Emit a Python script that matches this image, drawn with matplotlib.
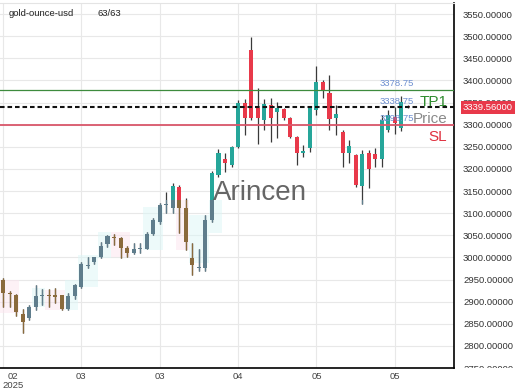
import matplotlib
matplotlib.use("Agg")
import matplotlib.pyplot as plt
from matplotlib.patches import Rectangle
from matplotlib.transforms import Bbox, TransformedBbox, blended_transform_factory

plt.rcParams.update({
    'font.family': 'Liberation Sans',
    'font.size': 6.8,
})

# --- candle data ---
opens = [2948, 2920, 2916, 2873, 2862, 2887, 2912, 2916, 2914, 2914,
         2883, 2912, 2932, 2980, 2989, 3000, 3030, 3045, 3043, 3021,
         3009, 3019, 3020, 3054, 3079, 3118, 3111, 3159, 3111, 2998,
         2977, 2975, 3084, 3186, 3222, 3208, 3249, 3349, 3468, 3337,
         3310, 3344, 3328, 3335, 3315, 3272, 3237, 3247, 3333, 3396,
         3371, 3315, 3283, 3236, 3231, 3161, 3236, 3233, 3222, 3288,
         3317, 3292, 3342]
highs = [2953, 2924, 2918, 2883, 2892, 2937, 2928, 2928, 2930, 2916,
         2919, 2941, 2989, 3002, 3002, 3034, 3050, 3054, 3045, 3025,
         3032, 3032, 3057, 3088, 3122, 3147, 3168, 3163, 3134, 3032,
         3020, 3095, 3195, 3245, 3235, 3252, 3355, 3357, 3498, 3383,
         3357, 3360, 3351, 3337, 3317, 3274, 3255, 3340, 3432, 3400,
         3412, 3344, 3287, 3265, 3233, 3242, 3242, 3247, 3321, 3333,
         3340, 3364, 3345]
lows = [2887, 2887, 2867, 2830, 2858, 2880, 2892, 2887, 2896, 2880,
        2880, 2907, 2930, 2977, 2986, 2998, 3023, 3027, 2998, 3002,
        3007, 3009, 3018, 3050, 3075, 3100, 3100, 3055, 3016, 2960,
        2970, 2970, 3080, 3181, 3193, 3205, 3247, 3276, 3310, 3256,
        3287, 3260, 3269, 3310, 3269, 3208, 3228, 3238, 3321, 3360,
        3287, 3276, 3204, 3213, 3159, 3120, 3156, 3204, 3204, 3283,
        3278, 3285, 3337]
closes = [2919, 2918, 2876, 2853, 2887, 2912, 2916, 2912, 2910, 2883,
          2912, 2937, 2984, 2983, 3000, 3025, 3048, 3043, 3021, 3009,
          3018, 3021, 3054, 3084, 3118, 3120, 3161, 3111, 3034, 2982,
          2979, 3084, 3190, 3237, 3213, 3249, 3349, 3315, 3315, 3315,
          3346, 3315, 3337, 3315, 3272, 3236, 3241, 3337, 3397, 3376,
          3312, 3324, 3236, 3251, 3163, 3233, 3199, 3222, 3310, 3321,
          3303, 3351, 3339.56]

# shaded zones in the older part of the chart: (first, last, low, high, kind)
zones = [
    (-0.5, 2.5, 2875, 2950, 'down'),
    (4.5, 6.5, 2887, 2930, 'up'),
    (6.5, 9.5, 2880, 2926, 'down'),
    (9.5, 11.5, 2880, 2948, 'up'),
    (11.5, 14.5, 2932, 3005, 'up'),
    (14.5, 16.5, 2998, 3057, 'up'),
    (16.5, 19.5, 3000, 3057, 'down'),
    (21.5, 24.5, 3016, 3113, 'up'),
    (26.5, 28.5, 3016, 3129, 'down'),
    (28.5, 31.5, 2987, 3095, 'up'),
    (31.5, 33.5, 3055, 3129, 'up'),
]
fade_level = 3129

tick_pos = [0, 12, 24, 36, 48, 60]
tick_lab = ['', '03', '03', '04', '05', '05']
y_ticks = list(range(2750, 3551, 50))

tp_level = 3378.75
entry_level = 3338.75
sl_level = 3298.75
last_price = 3339.56

UP, DOWN = '#26a69a', '#e8394a'
UP_FADE, DOWN_FADE = '#5f7d8c', '#8a6a3c'

fig = plt.figure(figsize=(5.2, 3.9), dpi=100)
ax = fig.add_axes([0.0, 0.0564, 0.8731, 0.9359])
ax.set_xlim(-0.46, 69.07)
ax.set_ylim(2750, 3575)

n = len(opens)
xs = list(range(n))
bottoms = [min(o, c) for o, c in zip(opens, closes)]
heights = [max(abs(c - o), 2.0) for o, c in zip(opens, closes)]
up = [c >= o for o, c in zip(opens, closes)]

# background zones
for x0, x1, lo, hi, kind in zones:
    ax.add_patch(Rectangle((x0, lo), x1 - x0, hi - lo,
                           facecolor='#fce4ee' if kind == 'down' else '#dcf7f7',
                           edgecolor='none', alpha=0.5, zorder=1))

# main candles
ax.vlines(xs, lows, highs, color='#3a3a3a', linewidth=0.9, zorder=3)
ax.bar(xs, heights, bottom=bottoms, width=0.62,
       color=[UP if u else DOWN for u in up], linewidth=0, zorder=3.2)

# faded copy for the lower part
clip = Rectangle((-1, 2700), 80, fade_level - 2700, transform=ax.transData)
fcols = [UP_FADE if u else DOWN_FADE for u in up]
wl = ax.vlines(xs, lows, highs, colors=fcols, linewidth=0.9, zorder=3.4)
wl.set_clip_path(clip)
bars = ax.bar(xs, heights, bottom=bottoms, width=0.62, color=fcols,
              linewidth=0, zorder=3.5)
for p in bars.patches:
    p.set_clip_path(clip)

# levels
ax.axhline(tp_level, color='#3d8b3d', linewidth=0.9, zorder=4.5)
ax.axhline(sl_level, color='#d9566a', linewidth=1.3, zorder=4.5)
ax.axhline(last_price, color='#111111', linewidth=1.5,
           linestyle=(0, (2.2, 1.4)), zorder=5)

tr = blended_transform_factory(ax.transAxes, ax.transData)
for lvl in (tp_level, entry_level, sl_level):
    ax.annotate(f'{lvl:.2f}', xy=(0.837, lvl), xycoords=tr,
                xytext=(0, 1.3), textcoords='offset points',
                ha='left', va='bottom', color='#6d8fd0', fontsize=6.8, zorder=6)
for lvl, txt, col in ((tp_level, 'TP1', '#2e8b2e'),
                      (entry_level, 'Price', '#8a8a8a'),
                      (sl_level, 'SL', '#e0303f')):
    ax.annotate(txt, xy=(0.985, lvl), xycoords=tr,
                xytext=(0, -3.5), textcoords='offset points',
                ha='right', va='top', color=col, fontsize=11, zorder=6)

ax.text(0.469, 0.479, 'Arincen', transform=ax.transAxes, fontsize=20,
        color='#555555', alpha=0.9, ha='left', va='center', zorder=6)

# axes styling
ax.set_yticks(y_ticks)
ax.set_yticklabels([f'{v:.5f}' for v in y_ticks])
ax.yaxis.tick_right()
ax.set_xticks(tick_pos)
ax.set_xticklabels(tick_lab)
ax.tick_params(axis='y', length=0, pad=6.5, labelcolor='#333333', labelsize=6.8)
ax.tick_params(axis='x', length=0, pad=3, labelcolor='#444444', labelsize=6.8)
ax.grid(True, color='#e8e8e8', linewidth=0.8, zorder=0)
ax.set_axisbelow(True)
ax.spines['left'].set_visible(False)
ax.spines['top'].set_color('#e4e4e4')
ax.spines['right'].set_color('black')
ax.spines['right'].set_linewidth(1.2)
ax.spines['bottom'].set_color('black')
ax.spines['bottom'].set_linewidth(1.2)

clipbox = TransformedBbox(Bbox([[1.0, 0.0], [1.3, 1.0]]), ax.transAxes)
for lab in ax.get_yticklabels():
    lab.set_clip_box(clipbox)
    lab.set_clip_on(True)

ax.annotate(f'{last_price:.5f}', xy=(1.0, last_price), xycoords=tr,
            xytext=(6.5, 0), textcoords='offset points', ha='left', va='center',
            color='white', fontsize=6.8, annotation_clip=False, zorder=7,
            bbox=dict(boxstyle='square,pad=0.2', fc='#e8394a', ec='none'))

ax.annotate('02\n2025', xy=(1.5, 0), xycoords=('data', 'axes fraction'),
            xytext=(0, -3), textcoords='offset points', ha='center', va='top',
            color='#444444', fontsize=6.8, linespacing=1.0, annotation_clip=False)

fig.text(9 / 520, 1 - 13 / 390, 'gold-ounce-usd', fontsize=6.8, color='#222222', va='center')
fig.text(97 / 520, 1 - 13 / 390, '63/63', fontsize=6.8, color='#222222', va='center')

fig.savefig('out.png', dpi=100)
